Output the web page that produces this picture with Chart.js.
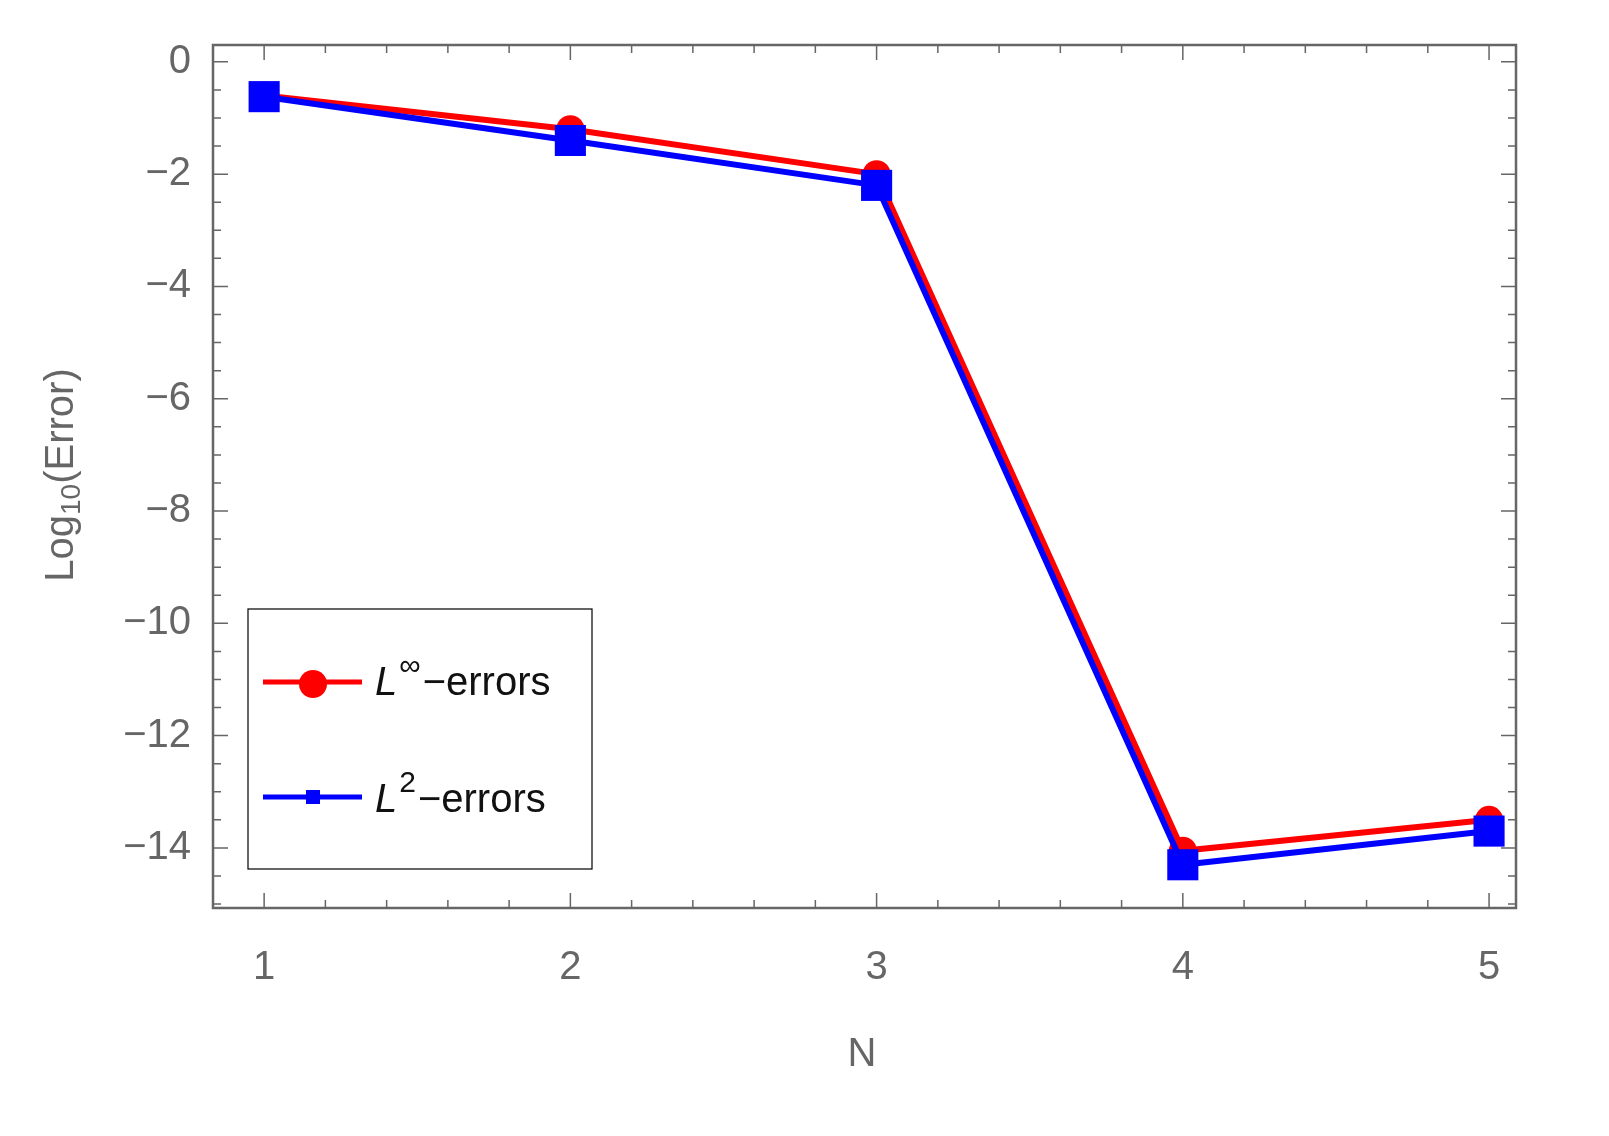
<!DOCTYPE html>
<html><head><meta charset="utf-8">
<script src="https://cdn.jsdelivr.net/npm/chart.js@4"></script>
<style>html,body{margin:0;padding:0;background:#fff}#w{width:1609px;height:1136px}</style>
</head><body><div id="w"><canvas id="c"></canvas></div>
<script>
const categories=[1,2,3,4,5];
const linfErrors=[-0.6,-1.2,-2.0,-14.05,-13.5];
const l2Errors=[-0.62,-1.4,-2.2,-14.3,-13.7];
const yTicks=[0,-2,-4,-6,-8,-10,-12,-14];
const G='#666', F='"Liberation Sans", Arial, sans-serif';
const fmt=v=>v<0?'\u2212'+Math.abs(v):String(v);
const deco={id:'deco',afterDraw(ch){
 const c=ch.ctx,a=ch.chartArea,xs=ch.scales.x,ys=ch.scales.y;
 c.save();c.strokeStyle=G;c.lineWidth=2.5;
 c.strokeRect(a.left,a.top,a.right-a.left,a.bottom-a.top);
 c.lineWidth=1.5;c.beginPath();
 for(let i=-30;i<=0;i++){const v=i/2,p=ys.getPixelForValue(v);if(p<a.top||p>a.bottom)continue;
  const L=(i%4===0)?15:8;c.moveTo(a.left,p);c.lineTo(a.left+L,p);c.moveTo(a.right,p);c.lineTo(a.right-L,p);}
 for(let i=4;i<=25;i++){const v=i/5,p=xs.getPixelForValue(v);if(p<a.left||p>a.right)continue;
  const L=(i%5===0)?15:8;c.moveTo(p,a.bottom);c.lineTo(p,a.bottom-L);c.moveTo(p,a.top);c.lineTo(p,a.top+L);}
 c.stroke();
 c.fillStyle=G;c.font='40px '+F;c.textAlign='center';c.textBaseline='middle';
 c.fillText('N',862,1055);
 c.translate(62,475);c.rotate(-Math.PI/2);c.textAlign='left';
 const w1=c.measureText('Log').width;c.font='28px '+F;const w2=c.measureText('10').width;c.font='40px '+F;
 const w3=c.measureText('(Error)').width;let x=-(w1+w2+w3)/2;
 c.fillText('Log',x,0);x+=w1;c.font='28px '+F;c.fillText('10',x,10);x+=w2;c.font='40px '+F;c.fillText('(Error)',x,0);
 c.setTransform(1,0,0,1,0,0);
 c.fillStyle='#fff';c.fillRect(248,609,344,260);c.strokeStyle='#000';c.lineWidth=1.2;c.strokeRect(248,609,344,260);
 c.lineWidth=5;c.strokeStyle='#f00';c.beginPath();c.moveTo(263,682);c.lineTo(362,682);c.stroke();
 c.fillStyle='#f00';c.beginPath();c.arc(313,684,14,0,7);c.fill();
 c.strokeStyle='#00f';c.beginPath();c.moveTo(263,797);c.lineTo(362,797);c.stroke();
 c.fillStyle='#00f';c.fillRect(306,790,14,14);
 c.fillStyle='#111';c.textBaseline='alphabetic';
 [[695,'\u221e','\u2212errors'],[812,'2','\u2212errors']].forEach(([y,s,t])=>{let x=375;
  c.font='italic 40px '+F;c.fillText('L',x,y);x+=c.measureText('L').width+2;
  c.font='30px '+F;c.fillText(s,x,y-20);x+=c.measureText(s).width+2;
  c.font='40px '+F;c.fillText(t,x,y);});
 c.restore();}};
new Chart(document.getElementById('c'),{type:'line',
 data:{datasets:[
  {data:categories.map((x,i)=>({x,y:linfErrors[i]})),order:1,borderColor:'#f00',backgroundColor:'#f00',borderWidth:6,pointStyle:'circle',pointRadius:14,pointBorderWidth:0},
  {data:categories.map((x,i)=>({x,y:l2Errors[i]})),order:0,borderColor:'#00f',backgroundColor:'#00f',borderWidth:6,pointStyle:'rect',pointRadius:22,pointBorderWidth:0}]},
 options:{responsive:true,maintainAspectRatio:false,animation:false,
  layout:{padding:{top:45,right:93,left:0,bottom:0}},
  plugins:{legend:{display:false},tooltip:{enabled:false}},
  scales:{
   x:{type:'linear',min:0.833,max:5.088,grid:{display:false},border:{display:false},
    afterFit:s=>{s.height=228},
    afterBuildTicks:s=>{s.ticks=categories.map(v=>({value:v}))},
    ticks:{color:G,font:{size:40,family:F},padding:28,callback:v=>fmt(v),maxRotation:0}},
   y:{type:'linear',min:-15.07,max:0.30,grid:{display:false},border:{display:false},
    afterFit:s=>{s.width=213},
    afterBuildTicks:s=>{s.ticks=yTicks.map(v=>({value:v}))},
    ticks:{color:G,font:{size:40,family:F},padding:14,callback:v=>fmt(v)}}}},
 plugins:[deco]});
</script></body></html>
